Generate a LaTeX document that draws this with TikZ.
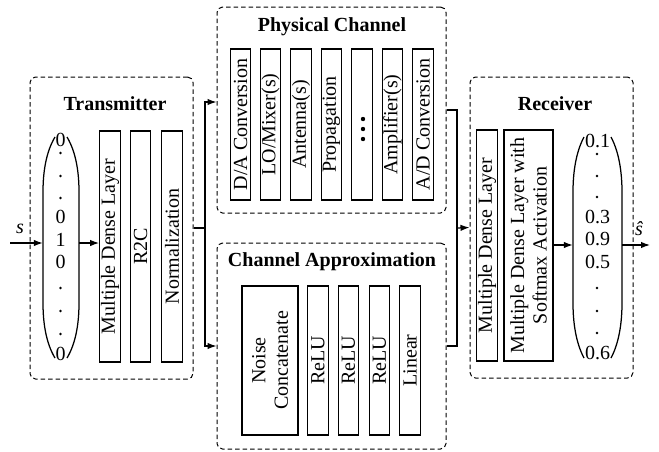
\documentclass[tikz,border=0pt]{standalone}
\usepackage{fontspec}
\setmainfont{Liberation Serif}
\usetikzlibrary{arrows.meta,calc}

\tikzset{
  txt/.style={font=\fontsize{20}{22.5}\selectfont},
  layer/.style={txt, draw, line width=1.25pt, rotate=90, inner sep=0pt,
                minimum height=20.5pt, align=center},
  group/.style={draw, dash pattern=on 4.5pt off 3pt, rounded corners=5.5pt,
                line width=1pt, inner sep=0pt},
  title/.style={font=\fontsize{20}{22.5}\selectfont\bfseries, inner sep=0pt},
  entry/.style={txt, inner sep=0pt},
  vecbox/.style={inner sep=0pt, minimum width=#1, minimum height=223pt},
  paren/.style={line width=1.25pt},
  link/.style={line width=1.25pt},
  arr/.style={link, -{Latex[length=9pt,width=6.5pt]}},
  vdot/.style={fill, circle, inner sep=0pt, minimum size=2.8pt}
}

\begin{document}
\begin{tikzpicture}[x=1pt, y=-1pt]
\useasboundingbox (0,0) rectangle (659,451);

% ---------------- group frames ----------------
\node[group, minimum width=163pt, minimum height=302pt] (tx)     at (111.5,228)   {};
\node[group, minimum width=229pt, minimum height=206pt] (phys)   at (331.5,110)   {};
\node[group, minimum width=229pt, minimum height=206pt] (approx) at (331.5,346)   {};
\node[group, minimum width=163pt, minimum height=301pt] (rx)     at (551.5,227.5) {};

\node[title] (txtitle)     at (115,104) {Transmitter};
\node[title] (physTitle)   at (332,27)  {Physical Channel};
\node[title] (approxTitle) at (332,262) {Channel Approximation};
\node[title] (rxtitle)     at (555,104) {Receiver};

% ---------------- transmitter ----------------
\node[vecbox=36pt] (txvec) at (61,243) {};
\draw[paren] (55,137) .. controls (46,152) and (43,172) .. (43,192) -- (43,303)
             .. controls (43,323) and (46,343) .. (55,358);
\draw[paren] (67,137) .. controls (76,152) and (79,172) .. (79,192) -- (79,303)
             .. controls (79,323) and (76,343) .. (67,358);
\node[entry] (t0) at (60.5,140) {0};
\node[vdot] (td1) at (60.5,153) {};
\node[vdot] (td2) at (60.5,176) {};
\node[vdot] (td3) at (60.5,198) {};
\node[entry] (t1) at (60.5,217) {0};
\node[entry] (t2) at (60.5,240) {1};
\node[entry] (t3) at (60.5,262) {0};
\node[vdot] (td4) at (60.5,288) {};
\node[vdot] (td5) at (60.5,311) {};
\node[vdot] (td6) at (60.5,334) {};
\node[entry] (t4) at (60.5,354) {0};

\node[layer, minimum width=231pt] (tmdl)  at (110,246.5)   {Multiple Dense Layer};
\node[layer, minimum width=231pt] (tr2c)  at (140.5,246.5) {R2C};
\node[layer, minimum width=231pt] (tnorm) at (172,246.5)   {Normalization};

% ---------------- physical channel ----------------
\node[layer, minimum width=151pt] (da)   at (240.5,124.5) {D/A Conversion};
\node[layer, minimum width=151pt] (lo)   at (270.5,124.5) {LO/Mixer(s)};
\node[layer, minimum width=151pt] (ant)  at (301,124.5)   {Antenna(s)};
\node[layer, minimum width=151pt] (prop) at (331.5,124.5) {Propagation};
\node[layer, minimum width=151pt] (more) at (362,124.5)   {};
\node[vdot, minimum size=4.4pt] (m1) at (363,119) {};
\node[vdot, minimum size=4.4pt] (m2) at (363,129) {};
\node[vdot, minimum size=4.4pt] (m3) at (363,139) {};
\node[layer, minimum width=151pt] (amp)  at (392.5,124.5) {Amplifier(s)};
\node[layer, minimum width=151pt] (ad)   at (423,124.5)   {A/D Conversion};

% ---------------- channel approximation ----------------
\node[layer, minimum width=149pt, minimum height=56pt] (noise) at (270,360.5) {Noise\\Concatenate};
\node[layer, minimum width=149pt] (relu1) at (318,360.5)   {ReLU};
\node[layer, minimum width=149pt] (relu2) at (348.5,360.5) {ReLU};
\node[layer, minimum width=149pt] (relu3) at (379.5,360.5) {ReLU};
\node[layer, minimum width=149pt] (lin)   at (410,360.5)   {Linear};

% ---------------- receiver ----------------
\node[layer, minimum width=231pt] (rmdl)  at (487,245.5) {Multiple Dense Layer};
\node[layer, minimum width=231pt, minimum height=49pt] (rsoft) at (528.5,245.5)
     {Multiple Dense Layer with\\Softmax Activation};

\node[vecbox=49pt] (rxvec) at (597.5,245) {};
\draw[paren] (584,137) .. controls (576,152) and (573,172) .. (573,192) -- (573,303)
             .. controls (573,323) and (576,343) .. (584,358);
\draw[paren] (611,137) .. controls (619,152) and (622,172) .. (622,192) -- (622,303)
             .. controls (622,323) and (619,343) .. (611,358);
\node[entry] (r0) at (597.5,141) {0.1};
\node[vdot] (rd1) at (597,154) {};
\node[vdot] (rd2) at (597,176) {};
\node[vdot] (rd3) at (597,197) {};
\node[entry] (r1) at (597.5,217) {0.3};
\node[entry] (r2) at (597.5,239) {0.9};
\node[entry] (r3) at (597.5,262) {0.5};
\node[vdot] (rd4) at (597,288) {};
\node[vdot] (rd5) at (597,311) {};
\node[vdot] (rd6) at (597,333) {};
\node[entry] (r4) at (597.5,353) {0.6};

% ---------------- connectors ----------------
\coordinate (sin)  at (10,243);
\coordinate (fork) at (205,228);
\coordinate (merge) at (457,228);
\coordinate (sout) at (650,245);

\node[txt, font=\fontsize{20}{22.5}\selectfont\itshape, inner sep=0pt] (slabel) at (20,229) {s};
\node[txt, font=\fontsize{20}{22.5}\selectfont\itshape, inner sep=0pt] (shat)   at (639,229) {ŝ};

\draw[arr] (sin) -- (sin -| txvec.west);
\draw[arr] (txvec.east) -- (txvec.east -| tmdl.north);

\draw[link] (tx.east |- fork) -- (fork);
\draw[arr] (fork) |- ($(phys.west)+(0,-8)$);
\draw[arr] (fork) |- (approx.west);

\draw[link] (phys.east) -| (merge) |- (approx.east);
\draw[arr] (merge) -- (rx.west);

\draw[arr] (rsoft.south |- rxvec.west) -- (rxvec.west);
\draw[arr] (rxvec.east) -- (sout);

\end{tikzpicture}
\end{document}
